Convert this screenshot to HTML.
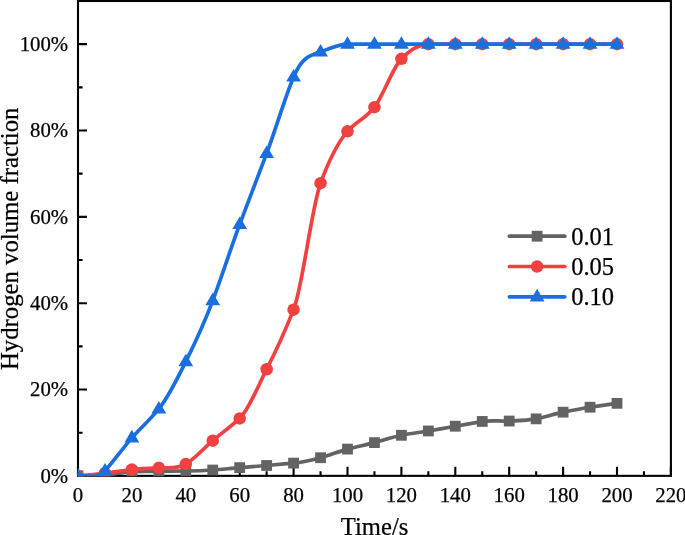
<!DOCTYPE html><html><head><meta charset="utf-8"><title>Hydrogen volume fraction</title>
<style>html,body{margin:0;padding:0;background:#fff}svg{display:block}text{font-family:"Liberation Serif","Times New Roman",serif;fill:#000;stroke:#000;stroke-width:0.25px}</style></head><body>
<svg width="685" height="535" viewBox="0 0 685 535">
<rect width="685" height="535" fill="#fff"/>
<defs><clipPath id="c"><rect x="77.80" y="1.00" width="592.90" height="475.15"/></clipPath></defs>
<rect x="78.00" y="1.00" width="592.90" height="474.85" fill="none" stroke="#000" stroke-width="2.1"/>
<path d="M78.00,475.85 v-9.0 M104.95,475.85 v-4.6 M131.90,475.85 v-9.0 M158.85,475.85 v-4.6 M185.80,475.85 v-9.0 M212.75,475.85 v-4.6 M239.70,475.85 v-9.0 M266.65,475.85 v-4.6 M293.60,475.85 v-9.0 M320.55,475.85 v-4.6 M347.50,475.85 v-9.0 M374.45,475.85 v-4.6 M401.40,475.85 v-9.0 M428.35,475.85 v-4.6 M455.30,475.85 v-9.0 M482.25,475.85 v-4.6 M509.20,475.85 v-9.0 M536.15,475.85 v-4.6 M563.10,475.85 v-9.0 M590.05,475.85 v-4.6 M617.00,475.85 v-9.0 M643.95,475.85 v-4.6 M670.90,475.85 v-9.0 M78.00,475.85 h9.0 M78.00,432.68 h4.6 M78.00,389.51 h9.0 M78.00,346.35 h4.6 M78.00,303.18 h9.0 M78.00,260.01 h4.6 M78.00,216.84 h9.0 M78.00,173.67 h4.6 M78.00,130.51 h9.0 M78.00,87.34 h4.6 M78.00,44.17 h9.0" stroke="#000" stroke-width="2.1" fill="none"/>
<g clip-path="url(#c)">
<path d="M78.00,475.85 C86.98,476.28 95.97,476.12 104.95,475.42 C113.93,474.72 122.92,471.63 131.90,471.53 C140.88,471.43 149.87,471.41 158.85,471.32 C167.83,471.22 176.82,471.13 185.80,471.02 C194.78,470.90 203.77,470.70 212.75,470.02 C221.73,469.34 230.72,468.38 239.70,467.65 C248.68,466.92 257.67,466.21 266.65,465.49 C275.63,464.77 284.62,463.97 293.60,463.12 C302.58,462.26 311.57,460.15 320.55,457.72 C329.53,455.29 338.52,451.40 347.50,449.09 C356.48,446.78 365.47,444.89 374.45,442.61 C383.43,440.33 392.42,437.05 401.40,435.27 C410.38,433.50 419.37,432.54 428.35,430.96 C437.33,429.37 446.32,427.79 455.30,426.21 C464.28,424.62 473.27,423.04 482.25,421.46 C491.23,419.88 500.22,421.45 509.20,421.03 C518.18,420.60 527.17,420.34 536.15,418.87 C545.13,417.39 554.12,413.94 563.10,412.18 C572.08,410.41 581.07,408.65 590.05,407.21 C599.03,405.78 608.02,404.44 617.00,403.33" fill="none" stroke="#636363" stroke-width="3.7" stroke-linejoin="round" stroke-linecap="round"/>
<rect x="72.60" y="470.45" width="10.80" height="10.80" fill="#636363"/>
<rect x="99.55" y="470.02" width="10.80" height="10.80" fill="#636363"/>
<rect x="126.50" y="466.13" width="10.80" height="10.80" fill="#636363"/>
<rect x="153.45" y="465.92" width="10.80" height="10.80" fill="#636363"/>
<rect x="180.40" y="465.62" width="10.80" height="10.80" fill="#636363"/>
<rect x="207.35" y="464.62" width="10.80" height="10.80" fill="#636363"/>
<rect x="234.30" y="462.25" width="10.80" height="10.80" fill="#636363"/>
<rect x="261.25" y="460.09" width="10.80" height="10.80" fill="#636363"/>
<rect x="288.20" y="457.72" width="10.80" height="10.80" fill="#636363"/>
<rect x="315.15" y="452.32" width="10.80" height="10.80" fill="#636363"/>
<rect x="342.10" y="443.69" width="10.80" height="10.80" fill="#636363"/>
<rect x="369.05" y="437.21" width="10.80" height="10.80" fill="#636363"/>
<rect x="396.00" y="429.87" width="10.80" height="10.80" fill="#636363"/>
<rect x="422.95" y="425.56" width="10.80" height="10.80" fill="#636363"/>
<rect x="449.90" y="420.81" width="10.80" height="10.80" fill="#636363"/>
<rect x="476.85" y="416.06" width="10.80" height="10.80" fill="#636363"/>
<rect x="503.80" y="415.63" width="10.80" height="10.80" fill="#636363"/>
<rect x="530.75" y="413.47" width="10.80" height="10.80" fill="#636363"/>
<rect x="557.70" y="406.78" width="10.80" height="10.80" fill="#636363"/>
<rect x="584.65" y="401.81" width="10.80" height="10.80" fill="#636363"/>
<rect x="611.60" y="397.93" width="10.80" height="10.80" fill="#636363"/>
<path d="M78.00,475.85 C86.98,475.17 95.97,474.25 104.95,473.26 C113.93,472.27 122.92,470.59 131.90,469.59 C140.88,468.59 149.87,468.50 158.85,467.86 C167.83,467.23 176.82,469.47 185.80,464.11 C194.78,458.74 203.77,448.31 212.75,440.67 C221.73,433.02 230.72,426.79 239.70,418.44 C248.68,410.09 257.67,386.62 266.65,369.23 C275.63,351.83 284.62,332.23 293.60,309.65 C302.58,287.08 311.57,207.71 320.55,183.17 C329.53,158.63 338.52,141.68 347.50,131.37 C356.48,121.06 365.47,118.89 374.45,107.20 C383.43,95.51 392.42,67.98 401.40,58.85 C410.38,49.71 419.37,44.17 428.35,44.17 H617.00" fill="none" stroke="#f14040" stroke-width="3.7" stroke-linejoin="round" stroke-linecap="round"/>
<circle cx="78.00" cy="475.85" r="6.25" fill="#f14040"/>
<circle cx="104.95" cy="473.26" r="6.25" fill="#f14040"/>
<circle cx="131.90" cy="469.59" r="6.25" fill="#f14040"/>
<circle cx="158.85" cy="467.86" r="6.25" fill="#f14040"/>
<circle cx="185.80" cy="464.11" r="6.25" fill="#f14040"/>
<circle cx="212.75" cy="440.67" r="6.25" fill="#f14040"/>
<circle cx="239.70" cy="418.44" r="6.25" fill="#f14040"/>
<circle cx="266.65" cy="369.23" r="6.25" fill="#f14040"/>
<circle cx="293.60" cy="309.65" r="6.25" fill="#f14040"/>
<circle cx="320.55" cy="183.17" r="6.25" fill="#f14040"/>
<circle cx="347.50" cy="131.37" r="6.25" fill="#f14040"/>
<circle cx="374.45" cy="107.20" r="6.25" fill="#f14040"/>
<circle cx="401.40" cy="58.85" r="6.25" fill="#f14040"/>
<circle cx="428.35" cy="44.17" r="6.25" fill="#f14040"/>
<circle cx="455.30" cy="44.17" r="6.25" fill="#f14040"/>
<circle cx="482.25" cy="44.17" r="6.25" fill="#f14040"/>
<circle cx="509.20" cy="44.17" r="6.25" fill="#f14040"/>
<circle cx="536.15" cy="44.17" r="6.25" fill="#f14040"/>
<circle cx="563.10" cy="44.17" r="6.25" fill="#f14040"/>
<circle cx="590.05" cy="44.17" r="6.25" fill="#f14040"/>
<circle cx="617.00" cy="44.17" r="6.25" fill="#f14040"/>
<path d="M78.00,475.85 C86.98,474.20 95.97,480.70 104.95,470.89 C113.93,461.07 122.92,448.04 131.90,437.86 C140.88,427.68 149.87,419.98 158.85,408.94 C167.83,397.90 176.82,379.95 185.80,361.67 C194.78,343.39 203.77,324.61 212.75,300.59 C221.73,276.56 230.72,248.52 239.70,224.40 C248.68,200.27 257.67,177.22 266.65,153.39 C275.63,129.55 284.62,98.37 293.60,76.98 C302.58,55.59 311.57,55.29 320.55,51.94 C329.53,48.59 338.52,44.17 347.50,44.17 H617.00" fill="none" stroke="#1a6fdf" stroke-width="3.7" stroke-linejoin="round" stroke-linecap="round"/>
<polygon points="78.00,467.85 70.60,480.45 85.40,480.45" fill="#1a6fdf"/>
<polygon points="104.95,462.89 97.55,475.49 112.35,475.49" fill="#1a6fdf"/>
<polygon points="131.90,429.86 124.50,442.46 139.30,442.46" fill="#1a6fdf"/>
<polygon points="158.85,400.94 151.45,413.54 166.25,413.54" fill="#1a6fdf"/>
<polygon points="185.80,353.67 178.40,366.27 193.20,366.27" fill="#1a6fdf"/>
<polygon points="212.75,292.59 205.35,305.19 220.15,305.19" fill="#1a6fdf"/>
<polygon points="239.70,216.40 232.30,229.00 247.10,229.00" fill="#1a6fdf"/>
<polygon points="266.65,145.39 259.25,157.99 274.05,157.99" fill="#1a6fdf"/>
<polygon points="293.60,68.98 286.20,81.58 301.00,81.58" fill="#1a6fdf"/>
<polygon points="320.55,43.94 313.15,56.54 327.95,56.54" fill="#1a6fdf"/>
<polygon points="347.50,36.17 340.10,48.77 354.90,48.77" fill="#1a6fdf"/>
<polygon points="374.45,36.17 367.05,48.77 381.85,48.77" fill="#1a6fdf"/>
<polygon points="401.40,36.17 394.00,48.77 408.80,48.77" fill="#1a6fdf"/>
<polygon points="428.35,36.17 420.95,48.77 435.75,48.77" fill="#1a6fdf"/>
<polygon points="455.30,36.17 447.90,48.77 462.70,48.77" fill="#1a6fdf"/>
<polygon points="482.25,36.17 474.85,48.77 489.65,48.77" fill="#1a6fdf"/>
<polygon points="509.20,36.17 501.80,48.77 516.60,48.77" fill="#1a6fdf"/>
<polygon points="536.15,36.17 528.75,48.77 543.55,48.77" fill="#1a6fdf"/>
<polygon points="563.10,36.17 555.70,48.77 570.50,48.77" fill="#1a6fdf"/>
<polygon points="590.05,36.17 582.65,48.77 597.45,48.77" fill="#1a6fdf"/>
<polygon points="617.00,36.17 609.60,48.77 624.40,48.77" fill="#1a6fdf"/>
</g>
<g font-size="20.8" text-anchor="middle">
<text x="78.00" y="502.2">0</text>
<text x="131.90" y="502.2">20</text>
<text x="185.80" y="502.2">40</text>
<text x="239.70" y="502.2">60</text>
<text x="293.60" y="502.2">80</text>
<text x="347.50" y="502.2">100</text>
<text x="401.40" y="502.2">120</text>
<text x="455.30" y="502.2">140</text>
<text x="509.20" y="502.2">160</text>
<text x="563.10" y="502.2">180</text>
<text x="617.00" y="502.2">200</text>
<text x="670.90" y="502.2">220</text>
</g>
<g font-size="20.8" text-anchor="end">
<text x="68.2" y="482.65">0%</text>
<text x="68.2" y="396.31">20%</text>
<text x="68.2" y="309.98">40%</text>
<text x="68.2" y="223.64">60%</text>
<text x="68.2" y="137.31">80%</text>
<text x="68.2" y="50.97">100%</text>
</g>
<text x="374.6" y="534.7" font-size="24.6" text-anchor="middle">Time/s</text>
<text transform="translate(17.6,238.8) rotate(-90)" font-size="24.75" text-anchor="middle">Hydrogen volume fraction</text>
<path d="M509.4,236.2 H564.8" stroke="#636363" stroke-width="3.7" stroke-linecap="round"/>
<rect x="531.70" y="230.80" width="10.80" height="10.80" fill="#636363"/>
<text x="571.2" y="244.8" font-size="24.5">0.01</text>
<path d="M509.4,266.5 H564.8" stroke="#f14040" stroke-width="3.7" stroke-linecap="round"/>
<circle cx="537.10" cy="266.50" r="6.25" fill="#f14040"/>
<text x="571.2" y="275.1" font-size="24.5">0.05</text>
<path d="M509.4,296.8 H564.8" stroke="#1a6fdf" stroke-width="3.7" stroke-linecap="round"/>
<polygon points="537.10,288.80 529.70,301.40 544.50,301.40" fill="#1a6fdf"/>
<text x="571.2" y="305.4" font-size="24.5">0.10</text>
</svg></body></html>
